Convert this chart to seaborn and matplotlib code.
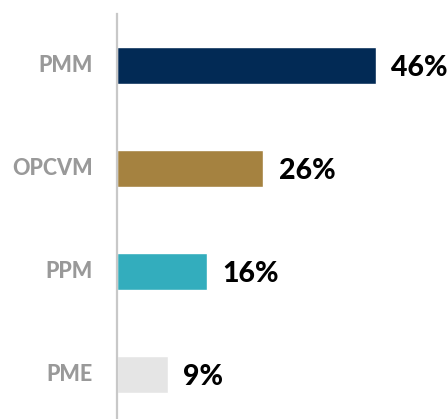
import matplotlib
matplotlib.use("Agg")
import matplotlib.pyplot as plt
import matplotlib.transforms as mtransforms
import seaborn as sns
import pandas as pd

# 数据
categories = ["PMM", "OPCVM", "PPM", "PME"]
shares = [46, 26, 16, 9]
bar_colors = ["#022a55", "#a58240", "#33adbd", "#e5e5e5"]

sns.set_style("white")
plt.rcParams["font.family"] = ["Lato", "DejaVu Sans"]

df = pd.DataFrame({"category": categories, "share": shares})

fig = plt.figure(figsize=(4.47, 4.19), dpi=100)
ax = fig.add_axes([117 / 447, 0, 330 / 447, 405 / 419])

sns.barplot(data=df, x="share", y="category", hue="category",
            palette=bar_colors, width=0.36, legend=False, ax=ax,
            saturation=1)

ax.set_xlim(0, 58.6)
ax.set_ylim(3.43, -0.5)

for cont in ax.containers:
    texts = ax.bar_label(cont, labels=[f"{v:.0f}%" for v in cont.datavalues],
                         padding=11, fontsize=20.5, fontweight="black", color="black")
    for t in texts:
        t.set_va("center_baseline")

sns.despine(ax=ax, left=False, bottom=True, top=True, right=True)
ax.spines["left"].set_color("#c8c8c8")
ax.spines["left"].set_linewidth(1.6)
ax.set_xticks([])
ax.set_yticks([])
ax.set_xlabel("")
ax.set_ylabel("")

# 类别标签（手动绘制，保证粗体）
offset = mtransforms.offset_copy(ax.get_yaxis_transform(), fig=fig, x=-24, y=0, units="dots")
for i, cat in enumerate(categories):
    ax.text(0, i, cat, transform=offset, ha="right", va="center",
            fontsize=15.5, fontweight="black", color="#999999")

fig.savefig("out.png", dpi=100)
